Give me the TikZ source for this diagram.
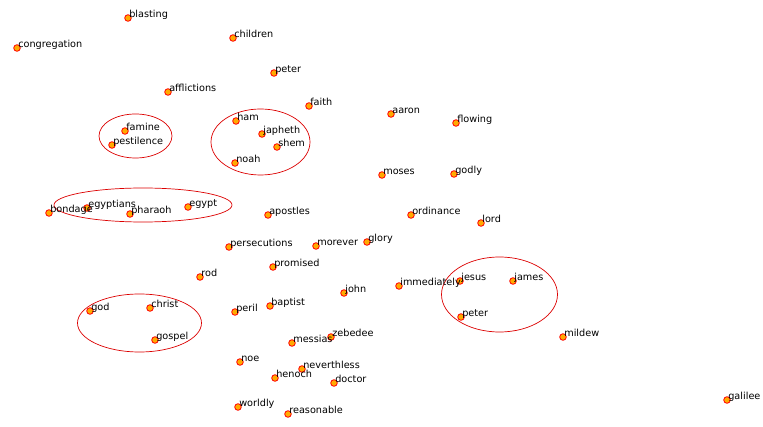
\documentclass[tikz,border=0pt]{standalone}
\usepackage{fontspec}
\setmainfont{DejaVu Sans}
\definecolor{dotfill}{RGB}{255,170,0}
\definecolor{ringred}{RGB}{220,0,0}
\begin{document}
\begin{tikzpicture}[x=1pt, y=-1pt]
\tikzset{ inner sep=0pt, outer sep=0pt,
  dot/.style={circle, minimum size=6.6pt, fill=dotfill, draw=red, line width=0.8pt},
  lbl/.style={anchor=base west, xshift=1.3pt, yshift=0.6pt, font=\fontsize{9.7}{11}\selectfont, text=black},
  grp/.style={ringred, line width=0.7pt},
}
\useasboundingbox (0,0) rectangle (763,427);
%\draw [lightgray, dashed](0,0) grid [step=50] (763,427);

% groups
\draw [grp] (135.5,136) ellipse (36.5 and 22);
\draw [grp] (260.5,142) ellipse (49.5 and 33);
\draw [grp] (143,205)   ellipse (89 and 17);
\draw [grp] (499.5,294.5) ellipse (58 and 37.5);
\draw [grp] (139.5,323) ellipse (62 and 29);

% words
\node [dot] (blasting)     at (128,18)  {};
\node [dot] (congregation) at (17,48)   {};
\node [dot] (children)     at (233,38)  {};
\node [dot] (peterA)       at (274,73)  {};
\node [dot] (afflictions)  at (168,92)  {};
\node [dot] (faith)        at (309,106) {};
\node [dot] (aaron)        at (391,114) {};
\node [dot] (flowing)      at (456,123) {};
\node [dot] (ham)          at (236,121) {};
\node [dot] (famine)       at (125,131) {};
\node [dot] (japheth)      at (262,134) {};
\node [dot] (shem)         at (277,147) {};
\node [dot] (pestilence)   at (112,145) {};
\node [dot] (noah)         at (235,163) {};
\node [dot] (moses)        at (382,175) {};
\node [dot] (godly)        at (454,174) {};
\node [dot] (bondage)      at (49,213)  {};
\node [dot] (egyptians)    at (87,208)  {};
\node [dot] (pharaoh)      at (130,214) {};
\node [dot] (egypt)        at (188,207) {};
\node [dot] (apostles)     at (268,215) {};
\node [dot] (ordinance)    at (411,215) {};
\node [dot] (lord)         at (481,223) {};
\node [dot] (persecutions) at (229,247) {};
\node [dot] (morever)      at (316,246) {};
\node [dot] (glory)        at (367,242) {};
\node [dot] (promised)     at (273,267) {};
\node [dot] (rod)          at (200,277) {};
\node [dot] (immediately)  at (399,286) {};
\node [dot] (jesus)        at (460,281) {};
\node [dot] (james)        at (513,281) {};
\node [dot] (john)         at (344,293) {};
\node [dot] (god)          at (90,311)  {};
\node [dot] (christ)       at (150,308) {};
\node [dot] (baptist)      at (270,306) {};
\node [dot] (peril)        at (235,312) {};
\node [dot] (peterB)       at (461,317) {};
\node [dot] (gospel)       at (155,340) {};
\node [dot] (messias)      at (292,343) {};
\node [dot] (zebedee)      at (331,337) {};
\node [dot] (mildew)       at (563,337) {};
\node [dot] (noe)          at (240,362) {};
\node [dot] (neverthless)  at (302,369) {};
\node [dot] (henoch)       at (275,378) {};
\node [dot] (doctor)       at (334,383) {};
\node [dot] (galilee)      at (727,400) {};
\node [dot] (worldly)      at (238,407) {};
\node [dot] (reasonable)   at (288,414) {};

% labels
\node [lbl] (blasting-t)     at (blasting)     {blasting};
\node [lbl] (congregation-t) at (congregation) {congregation};
\node [lbl] (children-t)     at (children)     {children};
\node [lbl] (peterA-t)       at (peterA)       {peter};
\node [lbl] (afflictions-t)  at (afflictions)  {afflictions};
\node [lbl] (faith-t)        at (faith)        {faith};
\node [lbl] (aaron-t)        at (aaron)        {aaron};
\node [lbl] (flowing-t)      at (flowing)      {flowing};
\node [lbl] (ham-t)          at (ham)          {ham};
\node [lbl] (famine-t)       at (famine)       {famine};
\node [lbl] (japheth-t)      at (japheth)      {japheth};
\node [lbl] (shem-t)         at (shem)         {shem};
\node [lbl] (pestilence-t)   at (pestilence)   {pestilence};
\node [lbl] (noah-t)         at (noah)         {noah};
\node [lbl] (moses-t)        at (moses)        {moses};
\node [lbl] (godly-t)        at (godly)        {godly};
\node [lbl] (bondage-t)      at (bondage)      {bondage};
\node [lbl] (egyptians-t)    at (egyptians)    {egyptians};
\node [lbl] (pharaoh-t)      at (pharaoh)      {pharaoh};
\node [lbl] (egypt-t)        at (egypt)        {egypt};
\node [lbl] (apostles-t)     at (apostles)     {apostles};
\node [lbl] (ordinance-t)    at (ordinance)    {ordinance};
\node [lbl] (lord-t)         at (lord)         {lord};
\node [lbl] (persecutions-t) at (persecutions) {persecutions};
\node [lbl] (morever-t)      at (morever)      {morever};
\node [lbl] (glory-t)        at (glory)        {glory};
\node [lbl] (promised-t)     at (promised)     {promised};
\node [lbl] (rod-t)          at (rod)          {rod};
\node [lbl] (immediately-t)  at (immediately)  {immediately};
\node [lbl] (jesus-t)        at (jesus)        {jesus};
\node [lbl] (james-t)        at (james)        {james};
\node [lbl] (john-t)         at (john)         {john};
\node [lbl] (god-t)          at (god)          {god};
\node [lbl] (christ-t)       at (christ)       {christ};
\node [lbl] (baptist-t)      at (baptist)      {baptist};
\node [lbl] (peril-t)        at (peril)        {peril};
\node [lbl] (peterB-t)       at (peterB)       {peter};
\node [lbl] (gospel-t)       at (gospel)       {gospel};
\node [lbl] (messias-t)      at (messias)      {messias};
\node [lbl] (zebedee-t)      at (zebedee)      {zebedee};
\node [lbl] (mildew-t)       at (mildew)       {mildew};
\node [lbl] (noe-t)          at (noe)          {noe};
\node [lbl] (neverthless-t)  at (neverthless)  {neverthless};
\node [lbl] (henoch-t)       at (henoch)       {henoch};
\node [lbl] (doctor-t)       at (doctor)       {doctor};
\node [lbl] (galilee-t)      at (galilee)      {galilee};
\node [lbl] (worldly-t)      at (worldly)      {worldly};
\node [lbl] (reasonable-t)   at (reasonable)   {reasonable};

\end{tikzpicture}
\end{document}
